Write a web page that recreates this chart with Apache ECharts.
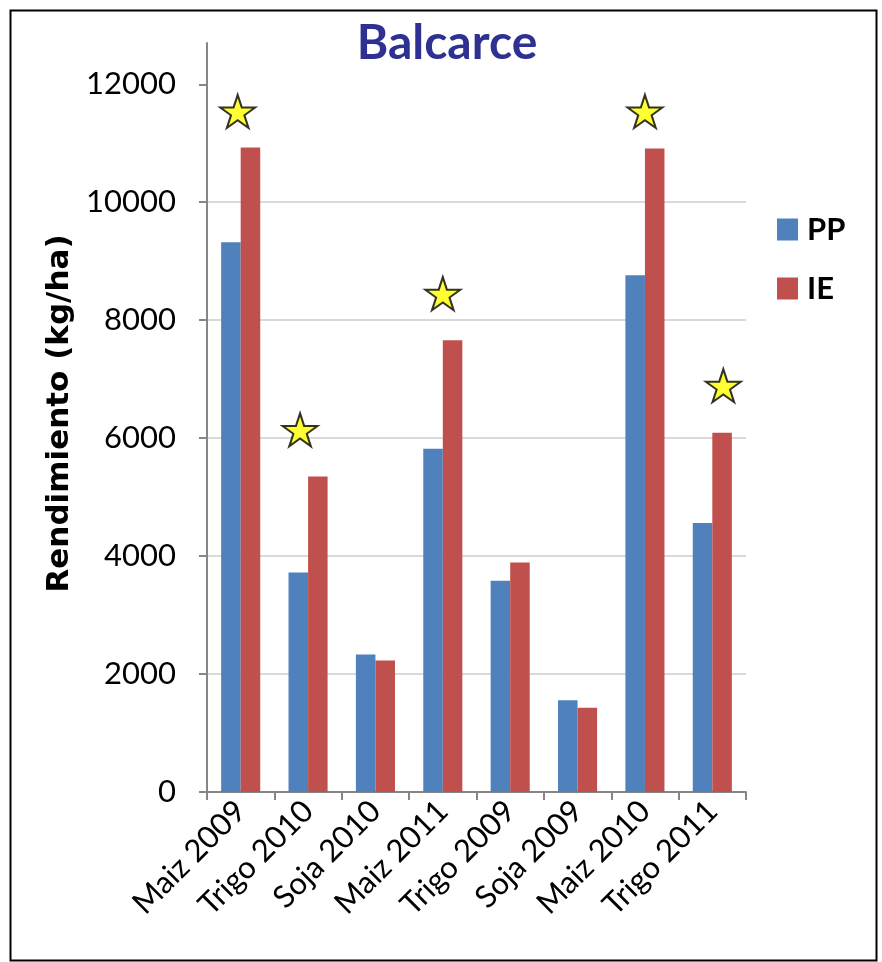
<!DOCTYPE html>
<html>
<head>
<meta charset="utf-8">
<script src="https://cdn.jsdelivr.net/npm/echarts@6/dist/echarts.min.js"></script>
<style>
  html, body { margin: 0; padding: 0; background: #ffffff; }
  #chart { width: 882px; height: 962px; }
</style>
</head>
<body>
<div id="chart"></div>
<script>
// Crop yields in Balcarce (kg/ha), PP vs IE
const categories = ['Maiz 2009', 'Trigo 2010', 'Soja 2010', 'Maiz 2011', 'Trigo 2009', 'Soja 2009', 'Maiz 2010', 'Trigo 2011'];
const ppValues = [9320, 3720, 2330, 5820, 3580, 1555, 8760, 4560];
const ieValues = [10930, 5350, 2230, 7660, 3890, 1430, 10910, 6090];
const yTickValues = [0, 2000, 4000, 6000, 8000, 10000, 12000];

// Star markers flagging the significant differences
const starCategories = ['Maiz 2009', 'Trigo 2010', 'Maiz 2011', 'Maiz 2010', 'Trigo 2011'];
const starLevels = [11540, 6140, 8450, 11540, 6890];

const STAR_PATH = 'path://M50 0 L61.23 34.55 L97.55 34.55 L68.17 55.9 L79.39 90.45 L50 69.1 L20.61 90.45 L31.83 55.9 L2.45 34.55 L38.77 34.55 Z';
const starNudge = { 'Maiz 2009': -3, 'Trigo 2010': -8, 'Trigo 2011': 11 };

const chart = echarts.init(document.getElementById('chart'), null, { renderer: 'canvas' });

const axisGray = '#868686';
const gridGray = '#d9d9d9';
const labelFont = 'Lato';

chart.setOption({
  animation: false,
  backgroundColor: '#ffffff',
  title: {
    text: 'Balcarce',
    left: 442,
    top: 15,
    textAlign: 'center',
    textStyle: { fontFamily: labelFont, fontWeight: 'bold', fontSize: 48, color: '#2e3192' }
  },
  legend: {
    data: ['PP', 'IE'],
    orient: 'vertical',
    left: 772,
    top: 209,
    itemWidth: 21,
    itemHeight: 22,
    itemGap: 28,
    icon: 'rect',
    textStyle: { fontFamily: labelFont, fontWeight: 'bold', fontSize: 31, color: '#000000', padding: [0, 0, 0, 4] }
  },
  grid: { left: 207, right: 136, top: 43, bottom: 170, containLabel: false },
  xAxis: {
    type: 'category',
    data: categories,
    axisLine: { show: true, lineStyle: { color: axisGray, width: 2 } },
    axisTick: { show: true, alignWithLabel: false, length: 8, lineStyle: { color: axisGray, width: 2 } },
    axisLabel: { rotate: 45, margin: 14, fontFamily: labelFont, fontSize: 31, color: '#000000', interval: 0 },
    splitLine: { show: false }
  },
  yAxis: {
    type: 'value',
    min: 0,
    max: 12700,
    interval: 1000,
    name: 'Rendimiento (kg/ha)',
    nameLocation: 'middle',
    nameGap: 128,
    nameRotate: 90,
    nameTextStyle: { fontFamily: 'DejaVu Sans', fontWeight: 'bold', fontSize: 31, color: '#000000', padding: [0, 0, 0, 8] },
    axisLine: { show: true, lineStyle: { color: axisGray, width: 2 } },
    axisTick: { show: true, length: 8, customValues: yTickValues, lineStyle: { color: axisGray, width: 2 } },
    axisLabel: {
      customValues: yTickValues,
      margin: 31,
      fontFamily: labelFont,
      fontSize: 31,
      color: '#000000',
      formatter: (v) => String(v)
    },
    splitLine: { show: true, showMaxLine: false, showMinLine: false, lineStyle: { color: gridGray, width: 2 } }
  },
  series: [
    {
      name: 'PP',
      type: 'bar',
      data: ppValues,
      barGap: '0%',
      barCategoryGap: '42%',
      itemStyle: { color: '#4f81bd' }
    },
    {
      name: 'IE',
      type: 'bar',
      data: ieValues,
      barGap: '0%',
      barCategoryGap: '42%',
      itemStyle: { color: '#c0504d' }
    },
    {
      name: 'stars',
      type: 'scatter',
      z: 5,
      symbol: STAR_PATH,
      symbolSize: [35, 33],
      symbolKeepAspect: false,
      itemStyle: { color: '#ffff00', borderColor: '#000000', borderWidth: 2 },
      data: starCategories.map((c, i) => ({
        value: [categories.indexOf(c), starLevels[i]],
        symbolOffset: [starNudge[c] || 0, 0]
      })),
      silent: true
    }
  ],
  graphic: [
    {
      type: 'rect',
      left: 8,
      top: 8,
      shape: { width: 866, height: 950 },
      style: { fill: 'none', stroke: '#000000', lineWidth: 2 },
      silent: true,
      z: -1
    }
  ]
});
</script>
</body>
</html>
